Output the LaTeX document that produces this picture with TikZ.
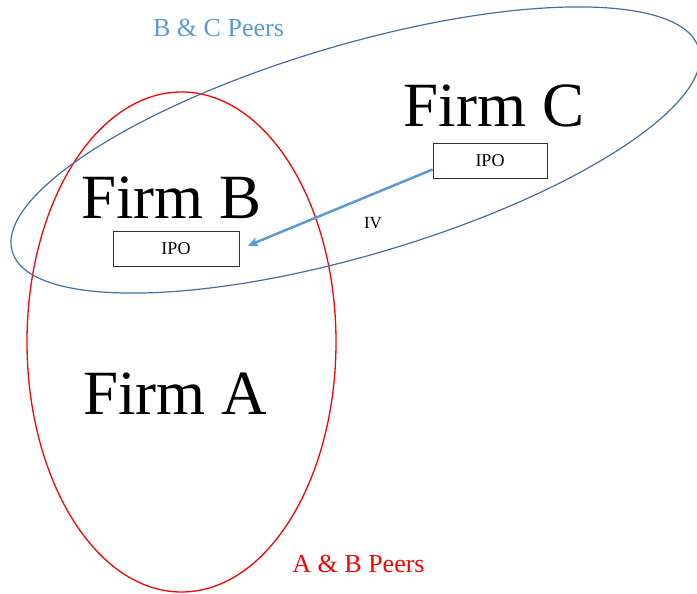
\documentclass[tikz,border=0pt]{standalone}
\usepackage{fontspec}
\setmainfont{Liberation Serif}
\usetikzlibrary{arrows.meta,calc}
\definecolor{peerblue}{HTML}{5B9BD5}
\definecolor{ringblue}{HTML}{41719C}
\definecolor{ringred}{HTML}{FF0000}
\tikzset{
  firmlabel/.style={anchor=base, inner sep=0pt, font=\fontsize{63}{63}\selectfont},
  ipobox/.style={draw=black!80, line width=0.8pt, minimum width=126pt, minimum height=35pt, inner sep=0pt, font=\fontsize{18}{18}\selectfont},
  peerlabel/.style={anchor=base, inner sep=0pt, font=\fontsize{26}{26}\selectfont},
  ivarrow/.style={draw=peerblue, line width=2.5pt, -{Stealth[length=10pt,width=9pt,inset=2pt]}},
}
\begin{document}
\begin{tikzpicture}[x=1pt,y=-1pt]
\useasboundingbox (0,0) rectangle (697,594);
% rings
\draw[ringred, line width=1.3pt] (181.5,342) ellipse [x radius=154.5, y radius=250];
\draw[ringblue, line width=1.2pt, rotate around={16.5:(355.5,150)}] (355.5,150) ellipse [x radius=358, y radius=105];
% labels
\node[firmlabel] (firmC) at (494,127) {Firm C};
\node[firmlabel] (firmB) at (171.5,218) {Firm B};
\node[firmlabel] (firmA) at (175,414) {Firm A};
\node[ipobox, minimum width=114pt] (ipoC) at (490,160.5) {IPO};
\node[ipobox] (ipoB) at (176,248.5) {IPO};
\node[anchor=center, inner sep=0pt, font=\fontsize{17}{17}\selectfont] (iv) at (373,223) {IV};
\node[peerlabel, text=peerblue] (bc) at (218.5,37) {B \& C Peers};
\node[peerlabel, text=ringred] (ab) at (358.5,572) {A \& B Peers};
% arrow
\coordinate (ivstart) at ($(ipoC.south west)!0.25!(ipoC.north west)$);
\coordinate (ivend) at ([xshift=8.5pt,yshift=2.8pt]ipoB.east);
\draw[ivarrow] (ivstart) -- (ivend);
\end{tikzpicture}
\end{document}
